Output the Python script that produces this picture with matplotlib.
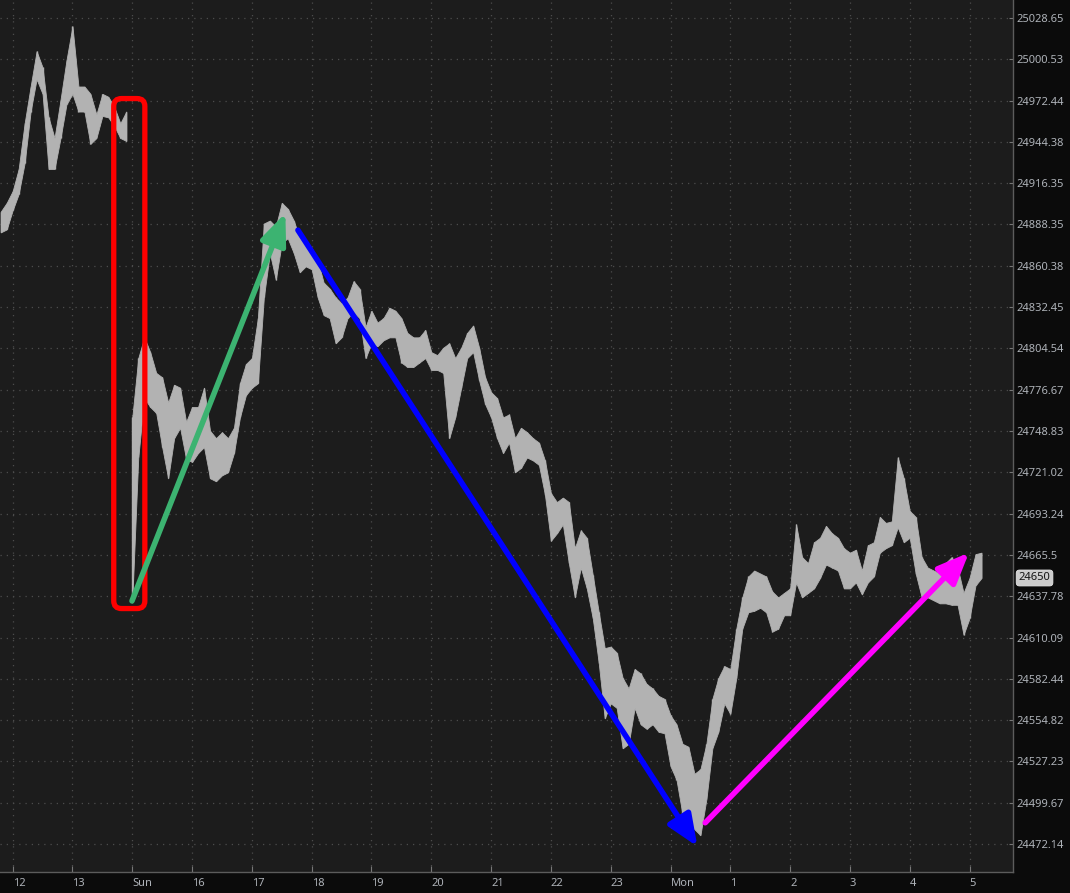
import numpy as np
import matplotlib.pyplot as plt
from matplotlib.patches import FancyArrowPatch, FancyBboxPatch
from matplotlib.ticker import NullLocator, NullFormatter

plt.rcParams['font.family'] = ['Noto Sans', 'DejaVu Sans']

# x axis: one tick per hour (index 0 = 12:00)
hour_labels = ["12", "13", "Sun", "16", "17", "18", "19", "20", "21", "22",
               "23", "Mon", "1", "2", "3", "4", "5"]

# right price scale
price_ticks = [25028.65, 25000.53, 24972.44, 24944.38, 24916.35, 24888.35,
               24860.38, 24832.45, 24804.54, 24776.67, 24748.83, 24721.02,
               24693.24, 24665.5, 24637.78, 24610.09, 24582.44, 24554.82,
               24527.23, 24499.67, 24472.14]
price_labels = ["25028.65", "25000.53", "24972.44", "24944.38", "24916.35",
                "24888.35", "24860.38", "24832.45", "24804.54", "24776.67",
                "24748.83", "24721.02", "24693.24", "24665.5", "24637.78",
                "24610.09", "24582.44", "24554.82", "24527.23", "24499.67",
                "24472.14"]
last_price = 24650

# bars every 0.1 h (high / low)
bar_step = 0.1

# session 1 (before the weekend break)
s1_start = -0.2
s1_high = [24897, 24903, 24911, 24926, 24957, 24982, 25006, 24995, 24961, 24947,
           24973, 25000, 25023, 24982, 24982, 24977, 24963, 24977, 24975, 24968,
           24957, 24965]
s1_low = [24883, 24885, 24898, 24909, 24930, 24965, 24987, 24977, 24926, 24926,
          24947, 24970, 24977, 24965, 24965, 24943, 24947, 24962, 24961, 24955,
          24947, 24945]

# session 2 (Sunday open onwards)
s2_start = 2.0
s2_high = [24758, 24798, 24812, 24802, 24788, 24785, 24768, 24780, 24778, 24755,
           24765, 24765, 24778, 24749, 24744, 24748, 24744, 24751, 24781, 24794,
           24798, 24825, 24889, 24891, 24887, 24903, 24899, 24891, 24879, 24876,
           24872, 24864, 24849, 24845, 24839, 24835, 24839, 24850, 24845, 24819,
           24830, 24822, 24825, 24832, 24830, 24825, 24815, 24812, 24812, 24817,
           24802, 24800, 24805, 24808, 24798, 24805, 24815, 24820, 24805, 24785,
           24775, 24771, 24758, 24760, 24744, 24751, 24748, 24744, 24741, 24729,
           24707, 24701, 24704, 24701, 24670, 24682, 24677, 24652, 24627, 24603,
           24604, 24600, 24583, 24576, 24589, 24586, 24579, 24576, 24571, 24569,
           24558, 24552, 24539, 24537, 24519, 24522, 24539, 24569, 24583, 24591,
           24589, 24616, 24637, 24651, 24655, 24653, 24651, 24641, 24637, 24640,
           24643, 24686, 24664, 24660, 24674, 24677, 24685, 24680, 24677, 24670,
           24667, 24669, 24655, 24672, 24674, 24691, 24687, 24688, 24731, 24717,
           24695, 24691, 24664, 24657, 24655, 24653, 24660, 24664, 24657, 24640,
           24650, 24666, 24667]
s2_low = [24635, 24731, 24771, 24765, 24761, 24738, 24717, 24744, 24751, 24730,
          24728, 24734, 24738, 24717, 24715, 24719, 24721, 24734, 24758, 24773,
          24778, 24781, 24839, 24869, 24851, 24876, 24879, 24869, 24856, 24860,
          24858, 24839, 24827, 24825, 24808, 24812, 24825, 24829, 24825, 24798,
          24808, 24806, 24810, 24812, 24812, 24795, 24792, 24792, 24795, 24798,
          24790, 24790, 24788, 24744, 24758, 24778, 24798, 24802, 24783, 24767,
          24758, 24744, 24734, 24741, 24721, 24724, 24731, 24729, 24726, 24706,
          24675, 24680, 24686, 24660, 24637, 24657, 24643, 24623, 24593, 24556,
          24566, 24563, 24536, 24539, 24563, 24552, 24549, 24552, 24547, 24546,
          24524, 24515, 24492, 24488, 24482, 24478, 24502, 24536, 24547, 24566,
          24559, 24583, 24616, 24627, 24628, 24630, 24627, 24614, 24616, 24625,
          24625, 24647, 24637, 24640, 24643, 24650, 24659, 24657, 24655, 24643,
          24643, 24647, 24639, 24647, 24651, 24667, 24670, 24672, 24684, 24674,
          24677, 24653, 24637, 24637, 24635, 24633, 24633, 24632, 24632, 24612,
          24623, 24645, 24650]

# drawn annotations (hour, price)
box_x = [1.69, 2.21]
box_y = [24629.5, 24973.8]
arrows = [
    ((1.995, 24634.6), (4.56, 24896.0), '#3cb371'),   # green
    ((4.77, 24884.5), (11.45, 24470.5), '#0000ff'),   # blue
    ((11.58, 24486.3), (15.99, 24667.0), '#ff00ff'),  # magenta
]

bg_outer = '#0b0b0b'
bg_plot = '#1c1c1c'
text_col = '#aeb2b8'

fig = plt.figure(figsize=(10.7, 8.93), dpi=100, facecolor=bg_outer)
ax = fig.add_axes([0, 21 / 893, 1013 / 1070, 872 / 893])
ax.set_facecolor(bg_plot)

# price bars
for start, hi, lo in [(s1_start, s1_high, s1_low), (s2_start, s2_high, s2_low)]:
    t = start + bar_step * np.arange(len(hi))
    ax.fill_between(t, lo, hi, color='#b2b2b2', lw=0.6, zorder=2)
    ax.vlines(t, lo, hi, color='#b2b2b2', lw=1.0, zorder=2)

# axes / scales
ax.set_yscale('log')
ax.set_xlim(-0.212, 16.727)
ax.set_ylim(24453.5, 25040.9)
ax.set_yticks(price_ticks, labels=price_labels)
ax.yaxis.set_minor_locator(NullLocator())
ax.yaxis.set_minor_formatter(NullFormatter())
ax.yaxis.tick_right()
ax.set_xticks(range(len(hour_labels)), labels=hour_labels)
plt.setp(ax.get_xticklabels(), ha='left')

ax.tick_params(axis='y', direction='in', length=3, pad=2.5, colors='#777777',
               labelcolor=text_col, labelsize=8)
ax.tick_params(axis='x', direction='in', length=4, pad=4, colors='#777777',
               labelcolor=text_col, labelsize=8)

for side in ['left', 'top']:
    ax.spines[side].set_visible(False)
for side in ['right', 'bottom']:
    ax.spines[side].set_color('#5c5c5c')
    ax.spines[side].set_linewidth(1.0)

ax.grid(True, color='#4c4c4c', linestyle=(0, (1, 4)), linewidth=0.9, zorder=0)
ax.set_axisbelow(True)

# red rounded box around the weekend gap
box = FancyBboxPatch((box_x[0], box_y[0]), box_x[1] - box_x[0], box_y[1] - box_y[0],
                     boxstyle='round,pad=0,rounding_size=0.13', mutation_aspect=40,
                     ec='#ff0000', fc='none', lw=3.8, zorder=4)
ax.add_patch(box)

# arrows
for (xa, ya), (xb, yb), col in arrows:
    arr = FancyArrowPatch((xa, ya), (xb, yb),
                          arrowstyle='-|>,head_length=19,head_width=8',
                          mutation_scale=1, lw=4.0, color=col,
                          shrinkA=0, shrinkB=0, capstyle='round', zorder=5)
    ax.add_patch(arr)

# last price tag
ax.text(1.0056, last_price, str(last_price), transform=ax.get_yaxis_transform(),
        ha='left', va='center', fontsize=8, color='#151515', clip_on=False,
        bbox=dict(boxstyle='round,pad=0.22,rounding_size=0.3', fc='#cccccc',
                  ec='#e6e6e6', lw=0.6))

fig.savefig('out.png', dpi=100, facecolor=fig.get_facecolor())
